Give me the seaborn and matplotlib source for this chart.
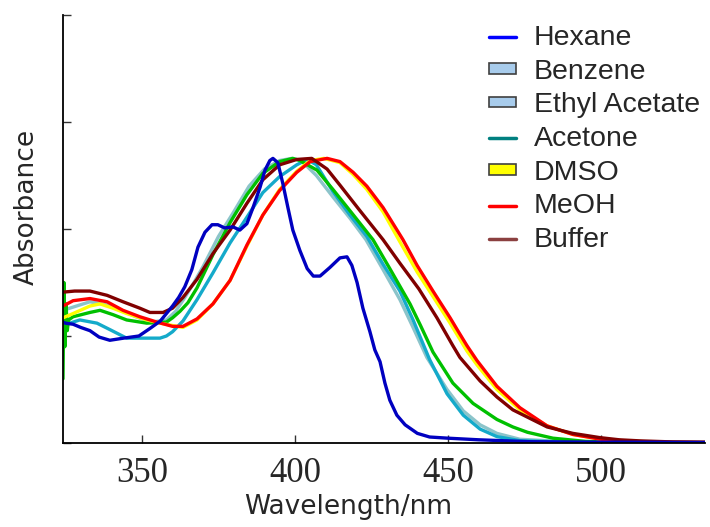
import matplotlib
matplotlib.use("Agg")
import numpy as np
import pandas as pd
import seaborn as sns
import matplotlib.pyplot as plt
from matplotlib.lines import Line2D
from matplotlib.patches import Patch

# ------ absorbance spectra (arbitrary units) ------ #
hexane_wl = [324.2, 325, 327.5, 330, 333, 336, 339.5, 344, 349, 352.6, 356, 358, 360, 362, 364,
             366.3, 368.3, 370.6, 372.9, 374.8, 377, 379.7, 382, 384.3, 386.3, 388.6, 390.2,
             391.8, 392.8, 394.4, 396, 397.7, 399.3, 401.6, 404, 406, 408.2, 411.4, 414.7, 417,
             418.6, 420.3, 422.2, 424.5, 426.1, 427.8, 429.4, 431, 433.3, 436, 440, 444, 450,
             460, 477, 500, 534]
hexane_abs = [1.13, 1.12, 1.11, 1.08, 1.05, 0.99, 0.96, 0.98, 1.00, 1.07, 1.14, 1.21, 1.28, 1.36, 1.46,
              1.62, 1.83, 1.97, 2.04, 2.04, 2.01, 2.02, 1.99, 2.05, 2.20, 2.39, 2.55,
              2.64, 2.66, 2.62, 2.43, 2.20, 1.99, 1.80, 1.63, 1.56, 1.56, 1.64, 1.73, 1.74,
              1.66, 1.50, 1.26, 1.04, 0.87, 0.76, 0.56, 0.40, 0.26, 0.17, 0.09, 0.056, 0.045,
              0.03, 0.012, 0.008, 0.005]

benzene_wl = [324.2, 327.5, 333, 338.6, 343, 348, 353, 358, 361, 364, 367, 370, 375, 380, 385,
              390, 395, 399, 402, 407, 412.4, 418, 423.2, 428.8, 434.3, 438.6, 443.1, 449.7,
              455, 460.5, 466, 473.5, 490, 534]
benzene_abs = [1.24, 1.27, 1.32, 1.29, 1.24, 1.18, 1.13, 1.15, 1.23, 1.36, 1.50, 1.65, 1.93, 2.16,
               2.40, 2.56, 2.64, 2.66, 2.64, 2.50, 2.30, 2.10, 1.90, 1.62, 1.34, 1.08, 0.80,
               0.50, 0.30, 0.17, 0.09, 0.035, 0.01, 0.003]

ethyl_wl = [324.2, 329.7, 335.3, 339.5, 345, 351, 355.9, 358, 360, 363.4, 368, 373.2, 378.8,
            384.3, 389.5, 395, 400.6, 404, 407, 412.4, 418, 423.5, 428.8, 434.3, 438.6, 444,
            449.7, 455, 460.5, 466, 473.5, 490, 534]
ethyl_abs = [1.10, 1.15, 1.12, 1.06, 0.98, 0.98, 0.98, 1.00, 1.04, 1.14, 1.34, 1.59, 1.87,
             2.11, 2.34, 2.49, 2.60, 2.65, 2.60, 2.35, 2.13, 1.93, 1.67, 1.42, 1.15, 0.78,
             0.46, 0.26, 0.13, 0.06, 0.022, 0.008, 0.003]

acetone_wl = [324.2, 324.5, 324.8, 325.2, 325.6, 326, 327.5, 333, 336.3, 340.5, 345, 351.6, 358,
              360, 362.4, 365, 368, 373.2, 378.8, 384.3, 389.5, 395, 399.3, 401.6, 407.2, 412.4,
              418, 425.5, 431, 437.6, 441, 445.1, 451.6, 458.2, 466, 471.2, 476, 484.3, 495,
              510, 534]
acetone_abs = [0.60, 1.50, 0.90, 1.30, 1.05, 1.15, 1.18, 1.22, 1.24, 1.20, 1.15, 1.12, 1.13,
               1.17, 1.23, 1.31, 1.45, 1.76, 2.06, 2.32, 2.52, 2.63, 2.66, 2.64, 2.55, 2.37,
               2.17, 1.90, 1.63, 1.30, 1.10, 0.85, 0.56, 0.37, 0.22, 0.15, 0.10, 0.045, 0.015,
               0.005, 0.003]

dmso_wl = [324.2, 327.5, 333, 336.3, 340.5, 345, 351.6, 355.9, 363.4, 368, 373.2, 378.8, 384.3,
           389.5, 395, 400.6, 405, 409.5, 414.7, 419, 423.5, 428.8, 434.3, 439.9, 445.1, 450.7,
           456.2, 459.5, 466, 473.5, 482.4, 490.8, 500, 510, 520, 534]
dmso_abs = [1.17, 1.21, 1.28, 1.30, 1.26, 1.21, 1.15, 1.12, 1.08, 1.15, 1.30, 1.52, 1.84,
            2.13, 2.37, 2.54, 2.64, 2.66, 2.62, 2.51, 2.37, 2.16, 1.88, 1.60, 1.37, 1.12,
            0.86, 0.73, 0.50, 0.31, 0.16, 0.08, 0.035, 0.015, 0.008, 0.004]

meoh_wl = [324.2, 327.5, 333, 338.6, 343.8, 349.3, 354.9, 360, 363.4, 368, 373.2, 378.8, 384.3,
           389.5, 395, 400.6, 405, 410.5, 414.7, 419, 423.5, 428.8, 435.3, 439.9, 445.1, 450.7,
           453, 456.2, 459.5, 466, 473.5, 482.4, 490.8, 500, 510, 520, 534]
meoh_abs = [1.28, 1.33, 1.35, 1.32, 1.24, 1.18, 1.13, 1.09, 1.09, 1.16, 1.30, 1.52, 1.85,
            2.13, 2.36, 2.53, 2.63, 2.66, 2.63, 2.53, 2.40, 2.20, 1.90, 1.66, 1.42, 1.17,
            1.06, 0.91, 0.77, 0.53, 0.33, 0.16, 0.08, 0.035, 0.015, 0.008, 0.004]

buffer_wl = [324.2, 328, 333, 338.6, 343.8, 349.3, 352.6, 356.9, 360, 363.4, 368, 373.2, 378.8,
             384.3, 389.5, 395, 400.6, 405.5, 410.5, 414.7, 421, 428.8, 434.3, 440.5, 446.4,
             451.6, 453.9, 460.5, 466, 471.2, 482.4, 490.8, 499.7, 506, 512.7, 523.5, 534]
buffer_abs = [1.41, 1.42, 1.42, 1.38, 1.32, 1.26, 1.22, 1.22, 1.26, 1.36, 1.53, 1.77, 1.99,
              2.24, 2.46, 2.60, 2.65, 2.66, 2.56, 2.41, 2.18, 1.90, 1.68, 1.44, 1.17,
              0.91, 0.80, 0.58, 0.43, 0.31, 0.15, 0.09, 0.05, 0.03, 0.02, 0.01, 0.008]

solvents = ["Benzene", "Ethyl Acetate", "Acetone", "DMSO", "MeOH", "Buffer", "Hexane"]
line_colors = {"Hexane": "#0000C0", "Benzene": "#8CC4CA", "Ethyl Acetate": "#14AACA",
               "Acetone": "#00C000", "DMSO": "#FFFF00", "MeOH": "#FF0000", "Buffer": "#800000"}

spectra = {"Hexane": (hexane_wl, hexane_abs), "Benzene": (benzene_wl, benzene_abs),
           "Ethyl Acetate": (ethyl_wl, ethyl_abs), "Acetone": (acetone_wl, acetone_abs),
           "DMSO": (dmso_wl, dmso_abs), "MeOH": (meoh_wl, meoh_abs), "Buffer": (buffer_wl, buffer_abs)}

df = pd.concat([pd.DataFrame({"wl": spectra[s][0], "abs": spectra[s][1], "solvent": s})
                for s in solvents], ignore_index=True)

sns.set_style("ticks")
plt.rcParams['font.family'] = ['DejaVu Sans']

fig = plt.figure(figsize=(7.1, 5.27), dpi=100, facecolor="w")
ax = fig.add_axes([63 / 710, 84 / 527, 642 / 710, 428 / 527])

sns.lineplot(data=df, x="wl", y="abs", hue="solvent", hue_order=solvents,
             palette=line_colors, estimator=None, sort=False, linewidth=2.4,
             legend=False, ax=ax)

ax.set_xlim(324.2, 534)
ax.set_ylim(0, 4)
ax.set_xticks([350, 400, 450, 500])
ax.set_yticks([0, 1, 2, 3, 4])
ax.set_yticklabels([])
ax.tick_params(axis="both", direction="in", length=6, width=1, color="#333333")
ax.tick_params(axis="x", pad=10)
for lab in ax.get_xticklabels():
    lab.set_fontfamily("Liberation Serif")
    lab.set_fontsize(25)
for side in ["top", "right"]:
    ax.spines[side].set_visible(False)
for side in ["left", "bottom"]:
    ax.spines[side].set_linewidth(1.3)
    ax.spines[side].set_color("black")

ax.set_xlabel("Wavelength/nm", fontsize=19)
ax.set_ylabel("Absorbance", fontsize=19)
ax.xaxis.set_label_coords(0.444, -0.118)
ax.yaxis.set_label_coords(-0.036, 0.551)

# ------ legend (mix of line and box handles like the original) ------ #
edge = "#404040"
handles = [
    Line2D([], [], color="#0000FF", linewidth=2.5),
    Patch(facecolor="#A8CCEC", edgecolor=edge, linewidth=1.2),
    Patch(facecolor="#A8CCEC", edgecolor=edge, linewidth=1.2),
    Line2D([], [], color="#008080", linewidth=2.5),
    Patch(facecolor="#FFFF00", edgecolor=edge, linewidth=1.2),
    Line2D([], [], color="#FF0000", linewidth=2.5),
    Line2D([], [], color="#8B4040", linewidth=2.5),
]
labels = ["Hexane", "Benzene", "Ethyl Acetate", "Acetone", "DMSO", "MeOH", "Buffer"]
fig.legend(handles, labels, loc="upper left", bbox_to_anchor=(489 / 710, 1 - 25 / 527),
           frameon=False, prop={"family": "Liberation Sans", "size": 20.5},
           handlelength=0.95, handleheight=0.2, handletextpad=0.63,
           labelspacing=0.27, borderpad=0, borderaxespad=0)

fig.savefig("out.png", dpi=100)
